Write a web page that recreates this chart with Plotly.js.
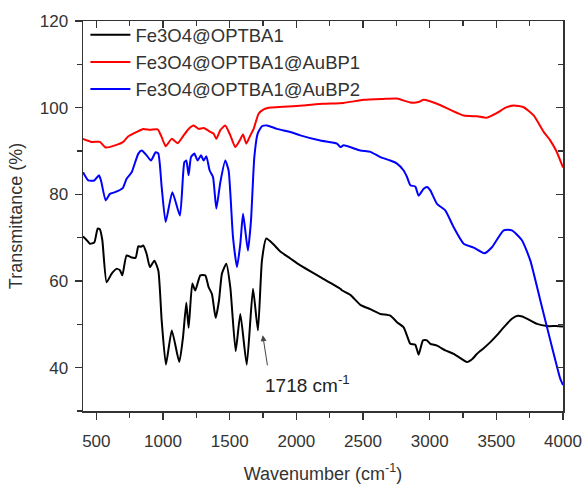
<!DOCTYPE html>
<html>
<head>
<meta charset="utf-8">
<script src="https://cdn.plot.ly/plotly-3.0.1.min.js"></script>
<style>html,body{margin:0;padding:0;background:#fff}#chart{width:582px;height:484px}</style>
</head>
<body>
<div id="chart"></div>
<script>
// Series names
const seriesNames = ["Fe3O4@OPTBA1", "Fe3O4@OPTBA1@AuBP1", "Fe3O4@OPTBA1@AuBP2"];

// Fe3O4@OPTBA1 (black)
const blackX = [400,420,452,485,510,527,545,577,615,652,677,695,727,765,795,815,835,852,877,902,935,965,990,1022,1066,1122,1150,1175,1192,1220,1242,1280,1317,1342,1367,1395,1420,1442,1475,1505,1545,1580,1628,1675,1712,1742,1775,1830,1880,1955,2030,2180,2330,2345,2405,2480,2555,2630,2705,2755,2805,2830,2855,2892,2917,2950,2980,3005,3055,3117,3180,3230,3280,3320,3355,3405,3455,3505,3555,3617,3660,3695,3730,3805,3880,3950,4000];
const blackY = [70.3,69.7,68.6,68.9,72.1,71.9,69.4,59.7,61.7,62.8,62.5,61.3,65.9,65.4,65.4,68,67.9,68.2,66.3,63.2,64.7,62.4,50.9,40.7,48.6,41.3,47,55,49.2,59.4,57.8,61.3,61.3,58.6,57,51.5,55.5,61.7,64,58.5,43.8,52.4,40.7,58.2,48.6,64.7,69.8,68.4,66.8,65.2,63.6,60.9,58.2,57.8,56.8,54.5,53.5,52.4,52,50.5,49.3,47.4,45.5,45.3,43,46.3,46.3,45.5,45.1,44,43.2,42.2,41.3,42,43.2,44.5,45.9,47.5,49.3,51.3,52,51.8,51.3,50.1,49.6,49.6,49.5];

// Fe3O4@OPTBA1@AuBP1 (red)
const redX = [400,465,527,570,640,702,740,802,852,902,960,990,1020,1065,1110,1150,1192,1230,1267,1305,1355,1380,1400,1430,1467,1505,1542,1575,1600,1625,1655,1680,1717,1755,1792,1900,2050,2200,2355,2505,2650,2755,2855,2917,2955,3055,3155,3255,3355,3430,3505,3570,3630,3705,3780,3855,3905,3950,4000];
const redY = [92.8,92.1,92.1,90.8,91.3,92.1,93.4,94.4,95.1,94.9,95,93.2,91.1,92.8,91.8,93.4,95.1,95.9,95.1,95.3,94.4,94,92.8,94.8,95.9,93.6,90.9,92.4,93.8,91.7,93.6,95.1,98.6,99.6,100,100.2,100.5,100.9,101.1,101.8,102,102.1,101.2,101.3,101.8,100.9,99.5,98.2,98,97.7,98.8,100,100.5,100.1,98.2,94.4,92.4,90,86.2];

// Fe3O4@OPTBA1@AuBP2 (blue)
const blueX = [400,440,485,520,535,570,602,640,677,700,727,765,815,840,877,910,945,965,990,1020,1070,1127,1160,1175,1192,1210,1235,1260,1285,1305,1325,1350,1375,1400,1430,1467,1492,1525,1555,1580,1600,1617,1637,1660,1685,1710,1742,1780,1855,1955,2030,2180,2305,2330,2355,2480,2555,2630,2705,2755,2805,2830,2855,2892,2917,2955,2980,3005,3055,3117,3180,3255,3330,3410,3467,3555,3617,3692,3755,3830,3905,3980,4000];
const blueY = [85.1,83.2,83.2,84.4,83.2,78.6,80.1,80.5,81,81.5,83.6,85.1,89.4,90.1,89,87.8,89.7,89.4,81.7,73.6,80.5,75.1,87.4,87.8,84.4,88.6,89.4,87.8,89,87.8,88.8,85.5,84,76.7,82.8,87.8,85.5,70.1,63.2,68.6,75.5,71.7,67,74,88.6,94,95.7,95.9,95.1,94.4,93.6,92.4,91.7,90.9,91.3,90.1,89.8,88.6,87.8,87.1,85.5,84,82.1,81.8,79.7,81.3,81.7,80.9,77.8,76.3,72.4,68.6,67.7,66.4,67.8,71.7,71.7,69.4,64.7,55.5,46.3,37.4,36];

// Axis ticks / labels
const xTicks = [500,1000,1500,2000,2500,3000,3500,4000];
const yTicks = [40,60,80,100,120];
const xRange = [400,4000];
const yRange = [30,120];
const annoText = "1718 cm<sup>-1</sup>";
const annoTextPos = [2080, 36.3];
const annoArrowHead = [1748, 47.5];
const annoArrowTail = [1785, 40.2];

const font = "Liberation Sans, Arial, sans-serif";
const tickFont = {family: font, size: 17, color: "#333"};

const mk = (x, y, name, color, extra) => Object.assign({
  x: x, y: y, name: name, type: "scatter", mode: "lines",
  line: {color: color, width: 2, shape: "spline", smoothing: 0.5}
}, extra || {});

const traces = [
  mk(blackX, blackY, seriesNames[0], "#000000"),
  mk(redX, redY, seriesNames[1], "#ff0000"),
  mk(blueX, blueY, seriesNames[2], "#0000ff", {xaxis: "x2", yaxis: "y2"})
];

const baseX = {range: xRange, tickvals: xTicks, showgrid: false, zeroline: false, automargin: false,
  showline: true, linecolor: "#333", linewidth: 1.5, tickcolor: "#333", tickwidth: 1.5};
const baseY = {range: yRange, tickvals: yTicks, showgrid: false, zeroline: false, automargin: false,
  showline: true, linecolor: "#333", linewidth: 1.5, tickcolor: "#333", tickwidth: 1.5};

const layout = {
  width: 582, height: 484,
  margin: {l: 83, r: 19, t: 21, b: 73},
  paper_bgcolor: "#fff", plot_bgcolor: "#fff",
  font: {family: font, color: "#333"},
  showlegend: true,
  legend: {x: 0.005, y: 1.012, xanchor: "left", yanchor: "top",
    bgcolor: "rgba(0,0,0,0)", font: {family: font, size: 18.5, color: "#333"},
    tracegroupgap: 0, itemwidth: 40},
  xaxis: Object.assign({}, baseX, {
    ticks: "outside", ticklen: 7, tickfont: tickFont, ticklabelstandoff: 7,
    minor: {dtick: 250, tick0: 500, ticks: "outside", ticklen: 5, tickcolor: "#333", tickwidth: 1.5},
    title: {text: "Wavenumber (cm<sup>-1</sup>)", font: {family: font, size: 18, color: "#333"}, standoff: 17}
  }),
  yaxis: Object.assign({}, baseY, {
    ticks: "outside", ticklen: 7, tickfont: tickFont, ticklabelstandoff: 3,
    minor: {dtick: 10, tick0: 30, ticks: "outside", ticklen: 5, tickcolor: "#333", tickwidth: 1.5},
    title: {text: "Transmittance (%)", font: {family: font, size: 18, color: "#333"}, standoff: 12}
  }),
  xaxis2: Object.assign({}, baseX, {
    overlaying: "x", side: "top", ticks: "inside", ticklen: 7, showticklabels: false,
    minor: {dtick: 250, tick0: 500, ticks: "inside", ticklen: 5, tickcolor: "#333", tickwidth: 1.5}
  }),
  yaxis2: Object.assign({}, baseY, {
    overlaying: "y", side: "right", ticks: "inside", ticklen: 7, showticklabels: false,
    minor: {dtick: 10, tick0: 30, ticks: "inside", ticklen: 5, tickcolor: "#333", tickwidth: 1.5}
  }),
  annotations: [
    {x: annoArrowHead[0], y: annoArrowHead[1], ax: annoArrowTail[0], ay: annoArrowTail[1],
     axref: "x", ayref: "y", xref: "x", yref: "y", text: "", showarrow: true,
     arrowhead: 2, arrowsize: 1.2, arrowwidth: 1, arrowcolor: "#444"},
    {x: annoTextPos[0], y: annoTextPos[1], xref: "x", yref: "y", text: annoText, showarrow: false,
     font: {family: font, size: 19, color: "#222"}}
  ]
};

Plotly.newPlot("chart", traces, layout, {displayModeBar: false, staticPlot: true});
</script>
</body>
</html>
